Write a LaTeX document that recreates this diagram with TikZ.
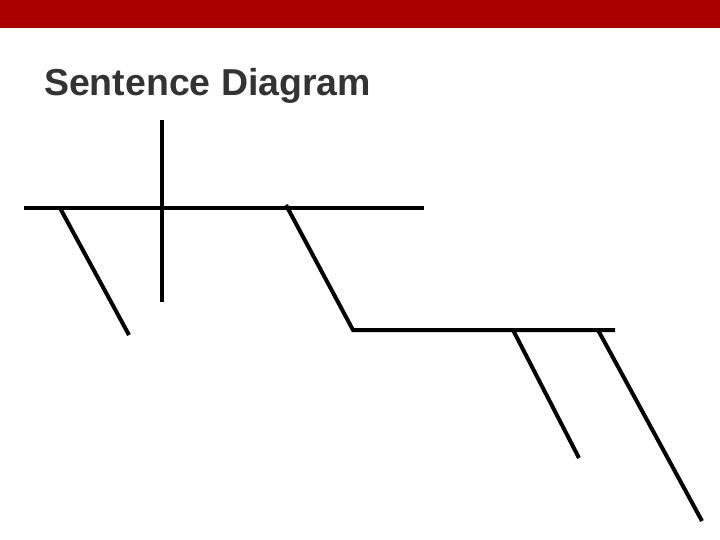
\documentclass[tikz,border=0pt]{standalone}
\usepackage{fontspec}
\setmainfont{Liberation Sans}
\usepackage{tikz}
\definecolor{barred}{HTML}{AA0000}
\definecolor{titlegray}{HTML}{333333}

\begin{document}
\begin{tikzpicture}[x=1pt,y=-1pt,line width=4pt]
\useasboundingbox (0,0) rectangle (720,540);
\fill[barred] (0,0) rectangle (720,28);
\node[anchor=base west,inner sep=0pt,text=titlegray,font=\fontsize{37.5}{45}\selectfont\bfseries] (title) at (42,96) {Sentence Diagram};

\coordinate (base1) at (24,208);
\coordinate (base2) at (424,208);
\coordinate (div1) at (162,120);
\coordinate (div2) at (162,302);
\coordinate (mod1) at (60,208);
\coordinate (mod2) at (129,335);
\coordinate (obj1) at (286,205);
\coordinate (obj2) at (353,330);
\coordinate (obj3) at (615,330);
\coordinate (adj1) at (513,330);
\coordinate (adj2) at (579,458);
\coordinate (adv1) at (598,330);
\coordinate (adv2) at (702,521);

\foreach \from/\to in {base1/base2,div1/div2,mod1/mod2,adj1/adj2,adv1/adv2}
\draw (\from) -- (\to);
\draw (obj1) -- (obj2) -- (obj3);
\end{tikzpicture}
\end{document}
